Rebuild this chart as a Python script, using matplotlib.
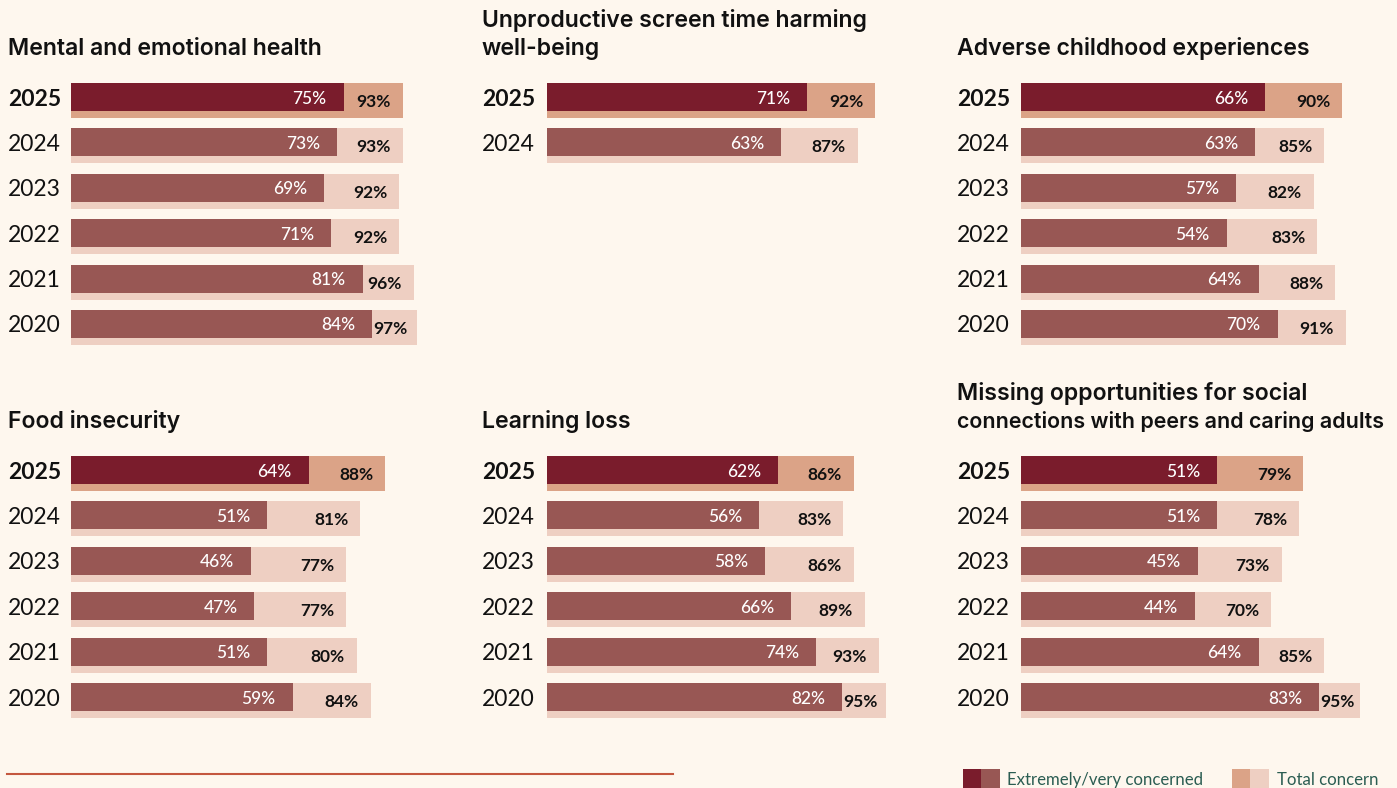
import matplotlib
matplotlib.use("Agg")
import matplotlib.pyplot as plt
from matplotlib.patches import Rectangle
from matplotlib.lines import Line2D

# ---------------- data ----------------
years = ["2025", "2024", "2023", "2022", "2021", "2020"]

titles = [
    ["Mental and emotional health"],
    ["Unproductive screen time harming", "well-being"],
    ["Adverse childhood experiences"],
    ["Food insecurity"],
    ["Learning loss"],
    ["Missing opportunities for social", "connections with peers and caring adults"],
]

mental_very = [75, 73, 69, 71, 81, 84]
mental_total = [93, 93, 92, 92, 96, 97]
screen_very = [71, 63]
screen_total = [92, 87]
adverse_very = [66, 63, 57, 54, 64, 70]
adverse_total = [90, 85, 82, 83, 88, 91]
food_very = [64, 51, 46, 47, 51, 59]
food_total = [88, 81, 77, 77, 80, 84]
learning_very = [62, 56, 58, 66, 74, 82]
learning_total = [86, 83, 86, 89, 93, 95]
social_very = [51, 51, 45, 44, 64, 83]
social_total = [79, 78, 73, 70, 85, 95]

very_series = [mental_very, screen_very, adverse_very, food_very, learning_very, social_very]
total_series = [mental_total, screen_total, adverse_total, food_total, learning_total, social_total]

legend_labels = ["Extremely/very concerned", "Total concern"]

# ---------------- style ----------------
BG = "#FEF7EE"
DARK_CUR = "#7A1C2C"
DARK_OLD = "#985754"
LIGHT_CUR = "#DBA387"
LIGHT_OLD = "#EECFC2"
TXT = "#111111"
LEG_TXT = "#2B5D52"

W, H = 1397, 788
fig = plt.figure(figsize=(W / 100, H / 100), dpi=100, facecolor=BG)

FONT = ["Lato", "DejaVu Sans"]
TFONT = ["Inter", "DejaVu Sans"]

row_px = 45.4
light_h_px = 35.0
dark_h_px = 28.0
px_per_pct = 3.57          # scale of the total-concern bars
dark_px_per_pct = 3.18     # the reference draws the inner bars on their own scale
dark_offset_px = 34.0

lefts = [71, 547, 1021]
row0_tops = [83, 456]
title_base = [55, 428]
label_x = [8, 482, 957]

light_h = light_h_px / row_px
dark_h = dark_h_px / row_px

ax_w = 100 * px_per_pct
d_min = -dark_offset_px / dark_px_per_pct
d_max = d_min + ax_w / dark_px_per_pct

renderer = fig.canvas.get_renderer()

for p in range(6):
    col = p % 3
    rowp = p // 3
    left = lefts[col]
    center0 = row0_tops[rowp] + light_h_px / 2
    ax_top = center0 - row_px / 2
    ax_h = 6 * row_px
    rect = [left / W, 1 - (ax_top + ax_h) / H, ax_w / W, ax_h / H]
    ax = fig.add_axes(rect)
    ax.set_xlim(0, 100)
    ax.set_ylim(5.5, -0.5)
    ax.axis("off")
    ax.patch.set_alpha(0)

    axd = fig.add_axes(rect)
    axd.set_xlim(d_min, d_max)
    axd.set_ylim(5.5, -0.5)
    axd.axis("off")
    axd.patch.set_alpha(0)
    x0d = axd.get_xlim()[0]

    very = very_series[p]
    total = total_series[p]
    n = len(very)
    ys = list(range(n))
    light_cols = [LIGHT_CUR if i == 0 else LIGHT_OLD for i in ys]
    dark_cols = [DARK_CUR if i == 0 else DARK_OLD for i in ys]
    dark_centers = [y - light_h / 2 + dark_h / 2 for y in ys]

    ax.barh(ys, total, height=light_h, color=light_cols, linewidth=0)
    axd.barh(dark_centers, [v - x0d for v in very], left=x0d, height=dark_h,
             color=dark_cols, linewidth=0)

    for i in ys:
        yc = dark_centers[i]
        axd.annotate(f"{very[i]}%", xy=(very[i], yc), xytext=(-17, 0),
                     textcoords="offset pixels", ha="right", va="center_baseline",
                     color="white", fontsize=12.5, fontweight="medium", family=FONT)
        dark_end_px = dark_offset_px + very[i] * dark_px_per_pct
        tot_px = total[i] * px_per_pct
        if tot_px - dark_end_px >= 50:
            ax.annotate(f"{total[i]}%", xy=(total[i], ys[i]), xytext=(-12, 0),
                        textcoords="offset pixels", ha="right", va="center_baseline",
                        color=TXT, fontsize=12.5, fontweight="bold", family=FONT)
        else:
            axd.annotate(f"{total[i]}%", xy=(very[i], ys[i]), xytext=(1, 0),
                         textcoords="offset pixels", ha="left", va="center_baseline",
                         color=TXT, fontsize=12.5, fontweight="bold", family=FONT)
        ax.annotate(years[i], xy=(0, yc), xycoords="data",
                    xytext=(label_x[col] - left, 0), textcoords="offset pixels",
                    ha="left", va="center_baseline", color=TXT, fontsize=16.5,
                    fontweight="bold" if i == 0 else "normal", family=FONT)

    lines = titles[p]
    for k, line in enumerate(lines):
        base = title_base[rowp] - (len(lines) - 1 - k) * 28
        t = fig.text(label_x[col] / W, 1 - base / H, line, ha="left", va="baseline",
                     fontsize=16.6, fontweight="semibold", color=TXT, family=TFONT)
        wpx = t.get_window_extent(renderer).width
        if wpx > 425:
            t.set_fontsize(16.6 * 425 / wpx)

# bottom rule
fig.add_artist(Line2D([7 / W, 673 / W], [1 - 774 / H, 1 - 774 / H],
                      color="#C4573F", linewidth=1.5, transform=fig.transFigure))

# legend
def sq(x0, x1, color):
    fig.add_artist(Rectangle((x0 / W, 0), (x1 - x0) / W, (788 - 769) / H,
                             transform=fig.transFigure, facecolor=color,
                             edgecolor="none"))

sq(963, 981, DARK_CUR)
sq(981, 1000, DARK_OLD)
sq(1232, 1250, LIGHT_CUR)
sq(1250, 1269, LIGHT_OLD)
fig.text(1007 / W, 1 - 785 / H, legend_labels[0], ha="left", va="baseline",
         fontsize=12.1, color=LEG_TXT, family=FONT)
fig.text(1277 / W, 1 - 785 / H, legend_labels[1], ha="left", va="baseline",
         fontsize=12.1, color=LEG_TXT, family=FONT)

fig.savefig("out.png", dpi=100, facecolor=BG)
